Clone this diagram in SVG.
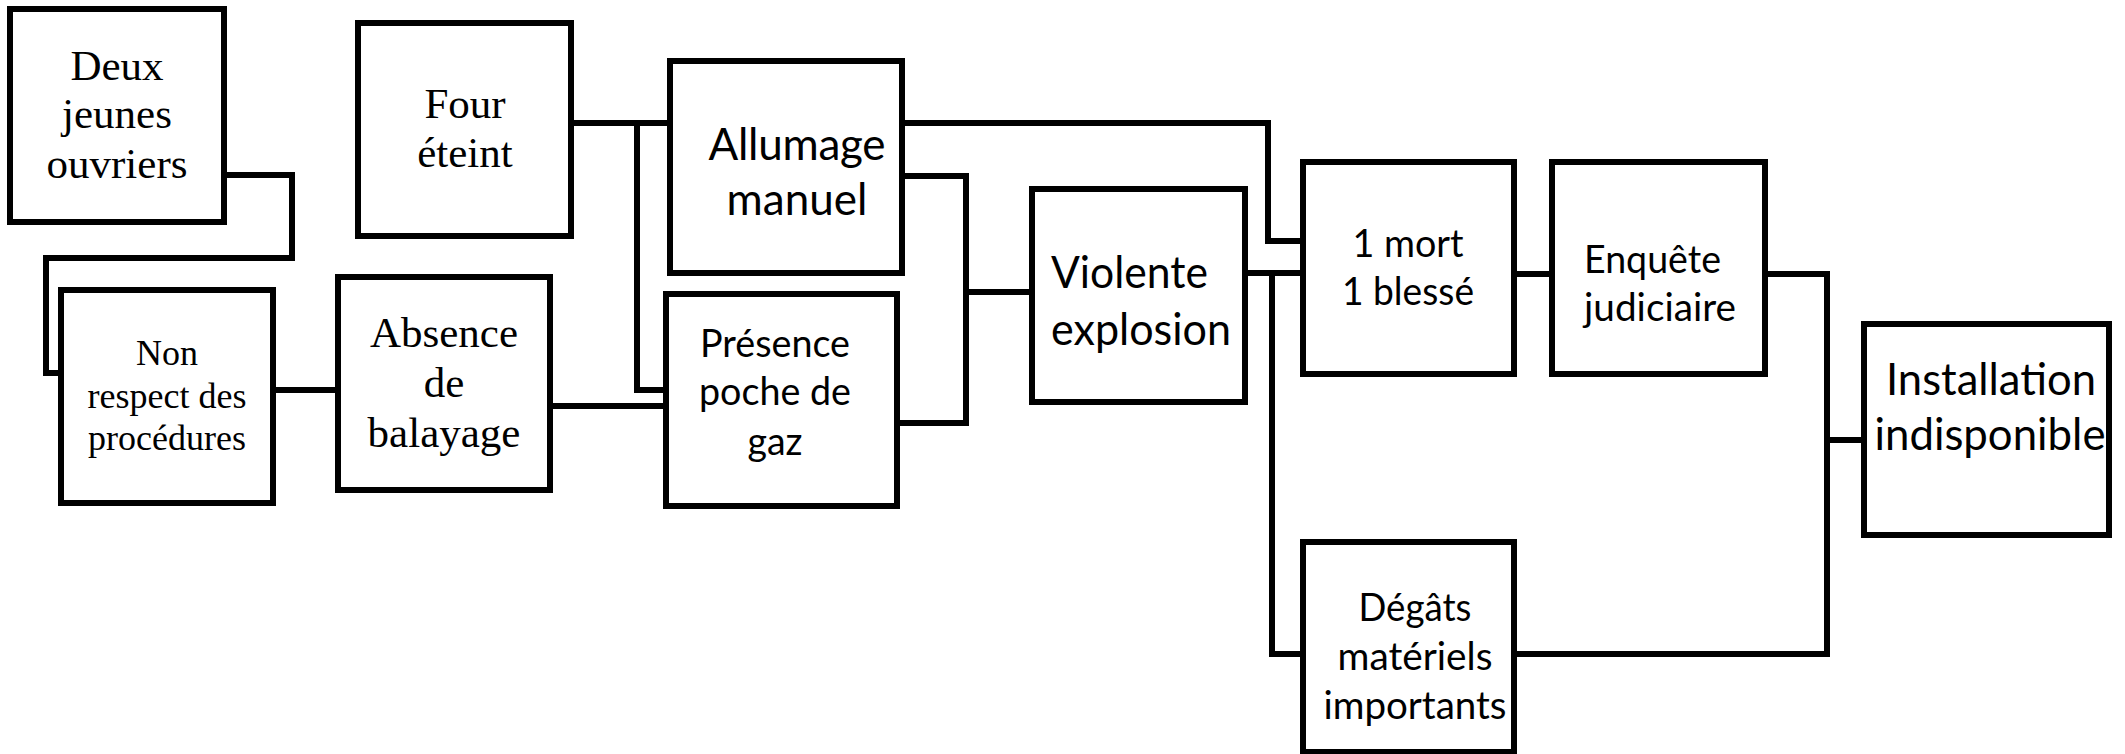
<svg xmlns="http://www.w3.org/2000/svg" width="2125" height="754" viewBox="0 0 2125 754">
<style>
.box{fill:#fff;stroke:#000;stroke-width:6}
.con{fill:none;stroke:#000;stroke-width:6;stroke-linejoin:miter;stroke-linecap:square}
.serif{font-family:"Liberation Serif","Times New Roman",serif;fill:#000}
.sans{font-family:Lato,"Liberation Sans",sans-serif;fill:#000}
</style>
<rect width="2125" height="754" fill="#fff"/>
<g id="connectors">
<polyline class="con" points="224,175 292,175 292,258 46,258 46,373 61,373"/>
<line class="con" x1="273" y1="390" x2="338" y2="390"/>
<line class="con" x1="571" y1="123" x2="670" y2="123"/>
<polyline class="con" points="637,123 637,390 666,390"/>
<line class="con" x1="550" y1="406" x2="666" y2="406"/>
<polyline class="con" points="902,176 966,176 966,423 897,423"/>
<line class="con" x1="966" y1="292" x2="1032" y2="292"/>
<polyline class="con" points="902,123 1268,123 1268,241 1303,241"/>
<line class="con" x1="1245" y1="273" x2="1303" y2="273"/>
<polyline class="con" points="1272,273 1272,654 1303,654"/>
<line class="con" x1="1514" y1="274" x2="1552" y2="274"/>
<polyline class="con" points="1765,274 1827,274 1827,654 1514,654"/>
<line class="con" x1="1827" y1="440" x2="1864" y2="440"/>
</g>
<g id="deux">
<rect class="box" x="10" y="9" width="214" height="213"/>
<text class="serif" font-size="43" text-anchor="middle"><tspan x="117" y="80">Deux</tspan><tspan x="117" y="128">jeunes</tspan><tspan x="117" y="178">ouvriers</tspan></text>
</g>
<g id="four">
<rect class="box" x="358" y="23" width="213" height="213"/>
<text class="serif" font-size="43" text-anchor="middle"><tspan x="465" y="118">Four</tspan><tspan x="465" y="167">éteint</tspan></text>
</g>
<g id="nonrespect">
<rect class="box" x="61" y="290" width="212" height="213"/>
<text class="serif" font-size="36" text-anchor="middle"><tspan x="167" y="365">Non</tspan><tspan x="167" y="408">respect des</tspan><tspan x="167" y="450">procédures</tspan></text>
</g>
<g id="absence">
<rect class="box" x="338" y="277" width="212" height="213"/>
<text class="serif" font-size="43" text-anchor="middle"><tspan x="444" y="347">Absence</tspan><tspan x="444" y="397">de</tspan><tspan x="444" y="447">balayage</tspan></text>
</g>
<g id="allumage">
<rect class="box" x="670" y="61" width="232" height="212"/>
<text class="sans" font-size="44" text-anchor="middle" lengthAdjust="spacingAndGlyphs"><tspan x="797" y="160" textLength="177">Allumage</tspan><tspan x="797" y="215" textLength="141">manuel</tspan></text>
</g>
<g id="presence">
<rect class="box" x="666" y="294" width="231" height="212"/>
<text class="sans" font-size="38" text-anchor="middle"><tspan x="775" y="357" textLength="150" lengthAdjust="spacingAndGlyphs">Présence</tspan><tspan x="775" y="405" textLength="152" lengthAdjust="spacingAndGlyphs">poche de</tspan><tspan x="775" y="455" textLength="55" lengthAdjust="spacingAndGlyphs">gaz</tspan></text>
</g>
<g id="violente">
<rect class="box" x="1032" y="189" width="213" height="213"/>
<text class="sans" font-size="44"><tspan x="1051" y="288" textLength="157" lengthAdjust="spacingAndGlyphs">Violente</tspan><tspan x="1051" y="345" textLength="180" lengthAdjust="spacingAndGlyphs">explosion</tspan></text>
</g>
<g id="mort">
<rect class="box" x="1303" y="162" width="211" height="212"/>
<text class="sans" font-size="38" text-anchor="middle"><tspan x="1408" y="257" textLength="111" lengthAdjust="spacingAndGlyphs">1 mort</tspan><tspan x="1408" y="305" textLength="132" lengthAdjust="spacingAndGlyphs">1 blessé</tspan></text>
</g>
<g id="enquete">
<rect class="box" x="1552" y="162" width="213" height="212"/>
<text class="sans" font-size="38"><tspan x="1584" y="273" textLength="137" lengthAdjust="spacingAndGlyphs">Enquête</tspan><tspan x="1584" y="321" textLength="152" lengthAdjust="spacingAndGlyphs">judiciaire</tspan></text>
</g>
<g id="installation">
<rect class="box" x="1864" y="324" width="245" height="211"/>
<text class="sans" font-size="44" text-anchor="middle"><tspan x="1991" y="395" textLength="210" lengthAdjust="spacingAndGlyphs">Installation</tspan><tspan x="1990" y="450" textLength="231" lengthAdjust="spacingAndGlyphs">indisponible</tspan></text>
</g>
<g id="degats">
<rect class="box" x="1303" y="542" width="211" height="210"/>
<text class="sans" font-size="38" text-anchor="middle"><tspan x="1415" y="621" textLength="113" lengthAdjust="spacingAndGlyphs">Dégâts</tspan><tspan x="1415" y="670" textLength="155" lengthAdjust="spacingAndGlyphs">matériels</tspan><tspan x="1415" y="719" textLength="183" lengthAdjust="spacingAndGlyphs">importants</tspan></text>
</g>
</svg>
